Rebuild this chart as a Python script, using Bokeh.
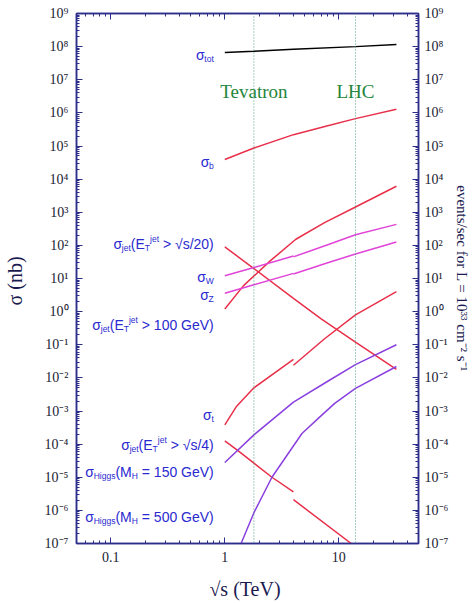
import math
from bokeh.plotting import figure
from bokeh.models import LogAxis, FixedTicker, CustomJSTickFormatter, Span, ColumnDataSource, Range1d
from bokeh.core.properties import value
from bokeh.embed import file_html
from bokeh.resources import INLINE

# ---------------- data: sqrt(s) in TeV, sigma in nb ----------------
tot_x = [1.0, 1.8, 4.0, 14.0, 32.0]
tot_y = [6.6e7, 7.2e7, 8.3e7, 1.0e8, 1.15e8]

b_x = [1.0, 1.8, 4.0, 8.0, 14.0, 32.0]
b_y = [3.9e4, 8.7e4, 2.2e5, 4.1e5, 6.7e5, 1.29e6]

jet20_x = [1.0, 1.8, 4.0, 7.0, 14.0, 32.0]
jet20_y = [90.0, 20.0, 2.5, 0.6, 0.12, 0.018]

jet100_x = [1.0, 1.46, 2.5, 4.2, 7.5, 13.6, 32.0]
jet100_y = [1.2, 6.1, 34.0, 153.0, 486.0, 1370.0, 6100.0]

W_ppbar_x = [1.0, 1.8, 4.0]
W_ppbar_y = [12.1, 21.5, 48.0]
W_pp_x = [4.0, 8.0, 14.0, 32.0]
W_pp_y = [45.0, 105.0, 210.0, 430.0]

Z_ppbar_x = [1.0, 1.8, 4.0]
Z_ppbar_y = [3.6, 6.5, 14.3]
Z_pp_x = [4.0, 8.0, 14.0, 32.0]
Z_pp_y = [13.6, 30.0, 55.0, 127.0]

t_ppbar_x = [1.0, 1.27, 1.8, 4.0]
t_ppbar_y = [3.8e-4, 1.4e-3, 5.0e-3, 3.6e-2]
t_pp_x = [4.0, 7.5, 14.0, 32.0]
t_pp_y = [2.4e-2, 0.152, 0.8, 4.0]

jet4_ppbar_x = [1.0, 1.27, 2.59, 4.0]
jet4_ppbar_y = [1.26e-4, 6.8e-5, 1.0e-5, 3.6e-6]
jet4_pp_x = [4.0, 13.1, 32.0]
jet4_pp_y = [2.1e-6, 9.5e-8, 9.0e-9]

h150_x = [1.0, 1.8, 4.0, 8.0, 14.0, 32.0]
h150_y = [2.8e-5, 1.9e-4, 1.86e-3, 7.9e-3, 2.5e-2, 0.1]

h500_x = [1.25, 1.38, 1.8, 2.59, 4.75, 6.6, 9.2, 14.0, 32.0]
h500_y = [4.0e-8, 9.5e-8, 8.5e-7, 1.0e-5, 2.1e-4, 6.0e-4, 1.7e-3, 4.8e-3, 2.2e-2]

tevatron_energy = 1.8
lhc_energy = 14.0
collider_names = ["Tevatron", "LHC"]

x_major = [0.1, 1, 10]
y_major_exp = list(range(-7, 10))

# labels: pieces (text, kind) kind n=normal, s=subscript, p=superscript
label_parts = [
    [("σ", "n"), ("tot", "s")],
    [("σ", "n"), ("b", "s")],
    [("σ", "n"), ("jet", "s"), ("(E", "n"), ("T", "s"), ("jet", "p"), (" > √s/20)", "n")],
    [("σ", "n"), ("W", "s")],
    [("σ", "n"), ("Z", "s")],
    [("σ", "n"), ("jet", "s"), ("(E", "n"), ("T", "s"), ("jet", "p"), (" > 100 GeV)", "n")],
    [("σ", "n"), ("t", "s")],
    [("σ", "n"), ("jet", "s"), ("(E", "n"), ("T", "s"), ("jet", "p"), (" > √s/4)", "n")],
    [("σ", "n"), ("Higgs", "s"), ("(M", "n"), ("H", "s"), (" = 150 GeV)", "n")],
    [("σ", "n"), ("Higgs", "s"), ("(M", "n"), ("H", "s"), (" = 500 GeV)", "n")],
]
label_log_y = [7.76, 4.506, 2.035, 1.035, 0.513, -0.418, -3.12, -4.04, -4.84, -6.2]
label_right_x = 0.80
collider_label_y = 4.3e6
right_label_text = "events/sec for L = 10³³ cm⁻² s⁻¹"

# ---------------- styling ----------------
NAVY = "#2d2d8a"
RED = "#e8304a"
MAG = "#e044d8"
PUR = "#8a40e0"
LBLUE = "#2a2ad0"
GREEN = "#23853a"

p = figure(width=473, height=602, x_axis_type="log", y_axis_type="log",
           x_range=Range1d(0.05, 50), y_range=Range1d(1e-7, 1e9),
           output_backend="svg", toolbar_location=None,
           min_border_left=76, min_border_right=48, min_border_top=13, min_border_bottom=56)
p.grid.visible = False
p.outline_line_color = NAVY
p.outline_line_width = 1.5
p.background_fill_color = "white"

x_minor = []
for dec in [0.01, 0.1, 1, 10]:
    for k in range(2, 10):
        v = k * dec
        if 0.05 <= v <= 50:
            x_minor.append(v)
y_minor = []
for e in range(-7, 9):
    for k in range(2, 10):
        y_minor.append(k * 10.0 ** e)

xt = FixedTicker(ticks=x_major, minor_ticks=x_minor)
yt = FixedTicker(ticks=[10.0 ** e for e in y_major_exp], minor_ticks=y_minor)

xfmt = CustomJSTickFormatter(code="return String(Math.round(tick*1000)/1000);")
blankfmt = CustomJSTickFormatter(code="return '';")
yfmt = CustomJSTickFormatter(code="""
const sup = {'0':'\u2070','1':'\u00b9','2':'\u00b2','3':'\u00b3','4':'\u2074','5':'\u2075','6':'\u2076','7':'\u2077','8':'\u2078','9':'\u2079','-':'\u207b'};
const e = Math.round(Math.log10(tick));
return '10' + String(e).split('').map(c => sup[c]).join('');
""")

def style_axis(ax):
    ax.axis_line_color = NAVY
    ax.axis_line_width = 1.5
    ax.major_tick_line_color = NAVY
    ax.minor_tick_line_color = NAVY
    ax.major_tick_in = 6
    ax.major_tick_out = 0
    ax.minor_tick_in = 3
    ax.minor_tick_out = 0
    ax.major_label_text_font = "Liberation Serif"
    ax.major_label_text_font_size = "14px"
    ax.major_label_text_color = "#222233"
    ax.axis_label_text_font = "Liberation Serif"
    ax.axis_label_text_font_style = "normal"
    ax.axis_label_text_color = "#1a1a50"

xa = p.xaxis[0]
xa.ticker = xt
xa.formatter = xfmt
style_axis(xa)
xa.axis_label = "√s  (TeV)"
xa.axis_label_text_font_size = "20px"
xa.major_label_standoff = 8
xa.axis_label_standoff = 13

ya = p.yaxis[0]
ya.ticker = yt
ya.formatter = yfmt
style_axis(ya)
ya.axis_label = "σ  (nb)"
ya.axis_label_text_font_size = "20px"
ya.major_label_standoff = 8
ya.axis_label_standoff = 16

top = LogAxis(ticker=xt, formatter=blankfmt)
style_axis(top)
top.major_label_standoff = 0
p.add_layout(top, "above")

right = LogAxis(ticker=yt, formatter=yfmt)
style_axis(right)
right.major_label_standoff = 6
right.axis_label = right_label_text
right.axis_label_text_font_size = "15px"
right.axis_label_standoff = 3
if "axis_label_orientation" in right.properties():
    right.axis_label_orientation = "vertical"
p.add_layout(right, "right")

# collider lines
for loc in [tevatron_energy, lhc_energy]:
    p.add_layout(Span(location=loc, dimension="height", line_color="#4f9a78",
                      line_width=1, line_dash="1 2"))

# curves
LW = 1.5
p.line(tot_x, tot_y, line_color="black", line_width=LW)
p.line(b_x, b_y, line_color=RED, line_width=LW)
p.line(jet20_x, jet20_y, line_color=RED, line_width=LW)
p.line(jet100_x, jet100_y, line_color=RED, line_width=LW)
p.line(W_ppbar_x, W_ppbar_y, line_color=MAG, line_width=LW)
p.line(W_pp_x, W_pp_y, line_color=MAG, line_width=LW)
p.line(Z_ppbar_x, Z_ppbar_y, line_color=MAG, line_width=LW)
p.line(Z_pp_x, Z_pp_y, line_color=MAG, line_width=LW)
p.line(t_ppbar_x, t_ppbar_y, line_color=RED, line_width=LW)
p.line(t_pp_x, t_pp_y, line_color=RED, line_width=LW)
p.line(jet4_ppbar_x, jet4_ppbar_y, line_color=RED, line_width=LW)
p.line(jet4_pp_x, jet4_pp_y, line_color=RED, line_width=LW)
p.line(h150_x, h150_y, line_color=PUR, line_width=LW)
p.line(h500_x, h500_y, line_color=PUR, line_width=LW)

# collider names
p.text(x=[tevatron_energy, lhc_energy], y=[collider_label_y] * 2, text=collider_names,
       text_font=value("Liberation Serif"), text_font_size="19px", text_color=GREEN,
       text_align="center", text_baseline="middle")

# curve labels built from pieces
WID = {' ': .278, '(': .333, ')': .333, '>': .584, '=': .584, '/': .278, '√': .549,
       'σ': .6, 'a': .556, 'b': .556, 'e': .556, 'g': .556, 'i': .222, 'j': .222,
       'o': .556, 's': .5, 't': .278, 'E': .667, 'G': .778, 'H': .722, 'M': .833,
       'T': .611, 'V': .667, 'W': .944, 'Z': .611}
MAIN, SMALL = 14.0, 8.5

rows = dict(x=[], y=[], text=[], xo=[], yo=[], size=[])
for parts, ly in zip(label_parts, label_log_y):
    widths = []
    for t, k in parts:
        sz = MAIN if k == "n" else SMALL
        widths.append(sum(WID.get(c, 0.556) for c in t) * sz)
    cur = -sum(widths)
    for (t, k), w in zip(parts, widths):
        sz = MAIN if k == "n" else SMALL
        lead = len(t) - len(t.lstrip(" "))
        rows["x"].append(label_right_x)
        rows["y"].append(10.0 ** ly)
        rows["text"].append(t.lstrip(" "))
        rows["xo"].append(cur + lead * WID[' '] * sz)
        rows["yo"].append({"n": 0, "s": 4, "p": -5}[k])
        rows["size"].append(f"{sz}px")
        cur += w

p.text(x="x", y="y", text="text", x_offset="xo", y_offset="yo", text_font_size="size",
       text_font=value("Liberation Sans"), text_color=LBLUE, text_align="left",
       text_baseline="middle", source=ColumnDataSource(rows))

open("out.html", "w").write(file_html(p, INLINE))
